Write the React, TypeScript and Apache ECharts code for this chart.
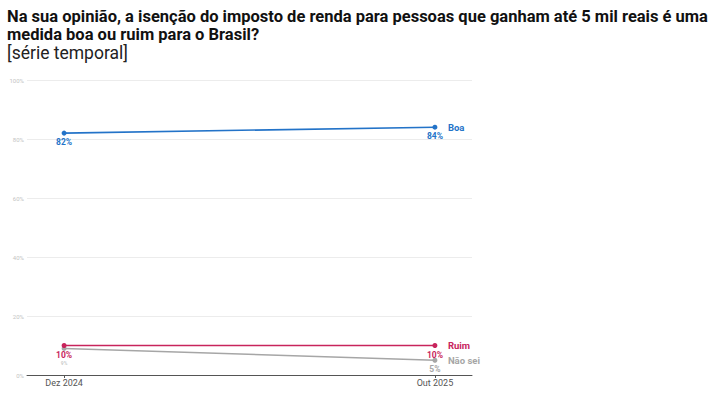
import React, { useEffect, useRef } from "react";
import * as echarts from "echarts";

const periods = ["Dez 2024", "Out 2025"];
const boa = [82, 84];
const ruim = [10, 10];
const naoSei = [9, 5];
const yTicks = [0, 20, 40, 60, 80, 100];

const BLUE = "#2373c8";
const RED = "#c8245c";
const GRAY = "#a6a6a6";

function mkSeries(name: string, values: number[], color: string, z: number) {
  return {
    name,
    type: "line",
    z,
    data: values.map((v, i) => [i, v]),
    symbol: "circle",
    symbolSize: 5,
    lineStyle: { color, width: 1.6 },
    itemStyle: { color },
    label: {
      show: true,
      position: "bottom",
      distance: 2,
      formatter: (p: any) => `${p.value[1]}%`,
      color,
      fontSize: 8.5,
      fontWeight: "bold",
      fontFamily: "Roboto, sans-serif",
    },
    endLabel: {
      show: true,
      formatter: name,
      color,
      fontSize: 9.5,
      fontWeight: "bold",
      fontFamily: "Roboto, sans-serif",
      distance: 13,
    },
  };
}

export default function App() {
  const ref = useRef<HTMLDivElement>(null);
  useEffect(() => {
    const chart = echarts.init(ref.current!, undefined, { renderer: "svg" });
    const gray: any = mkSeries("Não sei", naoSei, GRAY, 2);
    gray.data = naoSei.map((v, i) =>
      i === 0
        ? { value: [i, v], label: { distance: 10, fontSize: 5, color: "rgba(166,166,166,0.6)" } }
        : [i, v]
    );
    chart.setOption({
      animation: false,
      title: [
        {
          text: "Na sua opinião, a isenção do imposto de renda para pessoas que ganham até 5 mil reais é uma",
          left: 2,
          top: 2,
          textStyle: {
            fontFamily: "Roboto, sans-serif",
            fontWeight: "bold",
            fontSize: 16.5,
            lineHeight: 18,
            color: "#111",
          },
        },
        {
          text: "medida boa ou ruim para o Brasil?",
          left: 2,
          top: 20,
          textStyle: {
            fontFamily: "Roboto, sans-serif",
            fontWeight: "bold",
            fontSize: 16.5,
            lineHeight: 18,
            color: "#111",
          },
        },
        {
          text: "[série temporal]",
          left: 2,
          top: 39,
          textStyle: {
            fontFamily: "Roboto, sans-serif",
            fontWeight: "normal",
            fontSize: 17.5,
            lineHeight: 18,
            color: "#222",
          },
        },
      ],
      grid: { left: 27, right: 251, top: 80, bottom: 19, containLabel: false },
      xAxis: {
        type: "value",
        min: -0.1,
        max: 1.1,
        splitLine: { show: false },
        axisLine: { show: true, lineStyle: { color: "#555", width: 1 } },
        axisTick: { show: true, customValues: [0, 1], length: 3, lineStyle: { color: "#555" } },
        axisLabel: {
          customValues: [0, 1],
          formatter: (v: number) => periods[Math.round(v)] ?? "",
          color: "#555",
          fontSize: 9,
          fontFamily: "Roboto, sans-serif",
          margin: 3,
        },
      },
      yAxis: {
        type: "value",
        min: 0,
        max: 100,
        interval: 20,
        axisLine: { show: false },
        axisTick: { show: false },
        splitLine: { lineStyle: { color: "#ececec", width: 1 } },
        axisLabel: {
          formatter: (v: number) => (yTicks.includes(v) ? `${v}%` : ""),
          color: "#c4c4c4",
          fontSize: 6,
          fontFamily: "Roboto, sans-serif",
          margin: 3,
        },
      },
      series: [gray, mkSeries("Ruim", ruim, RED, 3), mkSeries("Boa", boa, BLUE, 4)],
    });
    return () => chart.dispose();
  }, []);
  return <div ref={ref} style={{ width: 723, height: 394, position: "absolute", left: 0, top: 0 }} />;
}
